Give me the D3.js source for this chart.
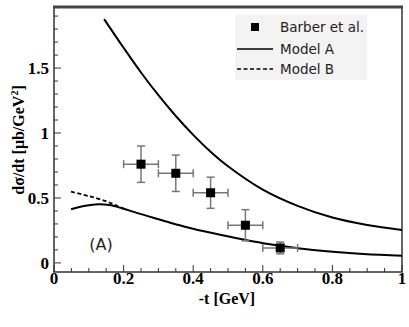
<!DOCTYPE html>
<html>
<head>
<meta charset="utf-8">
<script src="https://cdn.jsdelivr.net/npm/d3@7"></script>
<style>
  body { margin: 0; background: #fff; }
  .tick-label { font-family: "Liberation Serif", serif; font-weight: bold; font-size: 17px; }
  .axis-title { font-family: "Liberation Serif", serif; font-weight: bold; font-size: 16px; }
</style>
</head>
<body>
<div id="chart"></div>
<script>
// == Data ====================================================================

// Barber et al. data points
const barberT    = [0.25, 0.35, 0.45, 0.55, 0.65]
const barberVal  = [0.76, 0.69, 0.54, 0.29, 0.115]
const barberErrY = [0.14, 0.14, 0.12, 0.12, 0.045]
const barberErrX = [0.05, 0.05, 0.05, 0.05, 0.05]

// Model A, upper branch
const modelAUpperT   = [0.144, 0.2, 0.25, 0.3, 0.35, 0.4, 0.45, 0.5, 0.6, 0.7, 0.8, 0.9, 1.0]
const modelAUpperVal = [1.877, 1.656, 1.466, 1.291, 1.131, 0.986, 0.856, 0.744, 0.564, 0.439, 0.349, 0.292, 0.254]

// Model A, lower branch
const modelALowerT   = [0.049, 0.09, 0.127, 0.16, 0.195, 0.24, 0.29, 0.376, 0.458, 0.601, 0.745, 0.889, 1.0]
const modelALowerVal = [0.413, 0.44, 0.452, 0.445, 0.421, 0.383, 0.344, 0.279, 0.228, 0.152, 0.10, 0.069, 0.056]

// Model B (differs from A only at small -t)
const modelBT   = [0.049, 0.099, 0.147, 0.175, 0.2]
const modelBVal = [0.548, 0.515, 0.477, 0.448, 0.418]

const xTicks = [0, 0.2, 0.4, 0.6, 0.8, 1]
const yTicks = [0, 0.5, 1, 1.5]

// == Layout ==================================================================

const width = 409
const height = 327
const mLeft = 54, mRight = 402, mTop = 7, mBottom = 272

const svg = d3.select('#chart')
  .append('svg')
  .attr('width', width)
  .attr('height', height)

const x = d3.scaleLinear().domain([0, 1]).range([mLeft, mRight])
const y = d3.scaleLinear().domain([-0.07, 1.97]).range([mBottom, mTop])

// frame
svg.append('rect')
  .attr('x', mLeft)
  .attr('y', mTop)
  .attr('width', mRight - mLeft)
  .attr('height', mBottom - mTop)
  .attr('fill', 'none')
  .attr('stroke', '#333')
  .attr('stroke-width', 1.5)
svg.append('line')
  .attr('x1', mLeft - 1).attr('x2', mRight + 1)
  .attr('y1', mTop).attr('y2', mTop)
  .attr('stroke', '#444').attr('stroke-width', 3)

// minor + major ticks, inward
const xMinor = d3.range(0, 1.0001, 0.05)
svg.append('g').selectAll('line').data(xMinor).join('line')
  .attr('x1', d => x(d)).attr('x2', d => x(d))
  .attr('y1', mBottom)
  .attr('y2', (d, i) => mBottom - (i % 4 === 0 ? 7 : 4))
  .attr('stroke', '#333').attr('stroke-width', 1)

const yMinor = d3.range(0, 1.91, 0.1)
svg.append('g').selectAll('line').data(yMinor).join('line')
  .attr('y1', d => y(d)).attr('y2', d => y(d))
  .attr('x1', mLeft)
  .attr('x2', (d, i) => mLeft + (i % 5 === 0 ? 7 : 4))
  .attr('stroke', '#333').attr('stroke-width', 1)

// tick labels
svg.append('g').selectAll('text').data(xTicks).join('text')
  .attr('class', 'tick-label')
  .attr('x', d => x(d))
  .attr('y', mBottom + 12)
  .attr('text-anchor', 'middle')
  .text(d => d3.format('~g')(d))

svg.append('g').selectAll('text').data(yTicks).join('text')
  .attr('class', 'tick-label')
  .attr('x', mLeft - 5)
  .attr('y', d => y(d) + 6)
  .attr('text-anchor', 'end')
  .text(d => d3.format('~g')(d))

// axis titles
svg.append('text')
  .attr('class', 'axis-title')
  .attr('x', 227)
  .attr('y', 304)
  .attr('text-anchor', 'middle')
  .text('-t [GeV]')

svg.append('text')
  .attr('class', 'axis-title')
  .attr('transform', 'translate(24,140) rotate(-90)')
  .attr('text-anchor', 'middle')
  .html('dσ/dt [μb/GeV<tspan dy="-6" font-size="10px">2</tspan><tspan dy="6">]</tspan>')

// == Curves ==================================================================

const line = d3.line()
  .x(d => x(d[0]))
  .y(d => y(d[1]))
  .curve(d3.curveCatmullRom)

const plot = svg.append('g')

plot.append('path')
  .attr('d', line(d3.zip(modelBT, modelBVal)))
  .attr('fill', 'none').attr('stroke', '#000')
  .attr('stroke-width', 1.8).attr('stroke-dasharray', '4,2.5')

plot.append('path')
  .attr('d', line(d3.zip(modelALowerT, modelALowerVal)))
  .attr('fill', 'none').attr('stroke', '#000').attr('stroke-width', 2)

plot.append('path')
  .attr('d', line(d3.zip(modelAUpperT, modelAUpperVal)))
  .attr('fill', 'none').attr('stroke', '#000').attr('stroke-width', 2)

// == Data points =============================================================

const pts = barberT.map((t, i) => ({ t: t, v: barberVal[i], ey: barberErrY[i], ex: barberErrX[i] }))
const errColor = '#777'
const cap = 4

const pg = plot.selectAll('g.pt').data(pts).join('g').attr('class', 'pt')
pg.append('line')
  .attr('x1', d => x(d.t - d.ex)).attr('x2', d => x(d.t + d.ex))
  .attr('y1', d => y(d.v)).attr('y2', d => y(d.v))
  .attr('stroke', errColor).attr('stroke-width', 1.5)
pg.append('line')
  .attr('x1', d => x(d.t)).attr('x2', d => x(d.t))
  .attr('y1', d => y(d.v - d.ey)).attr('y2', d => y(d.v + d.ey))
  .attr('stroke', errColor).attr('stroke-width', 1.5)
// caps
pg.each(function (d) {
  const g = d3.select(this)
  ;[d.v - d.ey, d.v + d.ey].forEach(v => {
    g.append('line')
      .attr('x1', x(d.t) - cap).attr('x2', x(d.t) + cap)
      .attr('y1', y(v)).attr('y2', y(v))
      .attr('stroke', errColor).attr('stroke-width', 1.5)
  })
  ;[d.t - d.ex, d.t + d.ex].forEach(t => {
    g.append('line')
      .attr('x1', x(t)).attr('x2', x(t))
      .attr('y1', y(d.v) - cap).attr('y2', y(d.v) + cap)
      .attr('stroke', errColor).attr('stroke-width', 1.5)
  })
})
pg.append('rect')
  .attr('x', d => x(d.t) - 4.5).attr('y', d => y(d.v) - 4.5)
  .attr('width', 9).attr('height', 9)
  .attr('fill', '#000')

// label
svg.append('text')
  .attr('x', 101).attr('y', 250)
  .attr('text-anchor', 'middle')
  .attr('font-family', 'DejaVu Sans, sans-serif')
  .attr('font-size', 16)
  .attr('fill', '#222')
  .text('(A)')

// == Legend ==================================================================

const legend = svg.append('g')
legend.append('rect')
  .attr('x', 235).attr('y', 15).attr('width', 132).attr('height', 65)
  .attr('fill', '#f3f3f3')

const legendItems = [
  { label: 'Barber et al.', type: 'square', yy: 27 },
  { label: 'Model A', type: 'solid', yy: 49 },
  { label: 'Model B', type: 'dash', yy: 69 }
]
legendItems.forEach(item => {
  if (item.type === 'square') {
    legend.append('rect')
      .attr('x', 251).attr('y', item.yy - 4).attr('width', 8).attr('height', 8)
      .attr('fill', '#000')
  } else {
    legend.append('line')
      .attr('x1', 237).attr('x2', 273)
      .attr('y1', item.yy).attr('y2', item.yy)
      .attr('stroke', '#000').attr('stroke-width', 1.5)
      .attr('stroke-dasharray', item.type === 'dash' ? '4,2.5' : null)
  }
  legend.append('text')
    .attr('x', 280).attr('y', item.yy + 5)
    .attr('font-family', 'DejaVu Sans, sans-serif')
    .attr('font-size', 13.5)
    .attr('fill', '#222')
    .text(item.label)
})
</script>
</body>
</html>
